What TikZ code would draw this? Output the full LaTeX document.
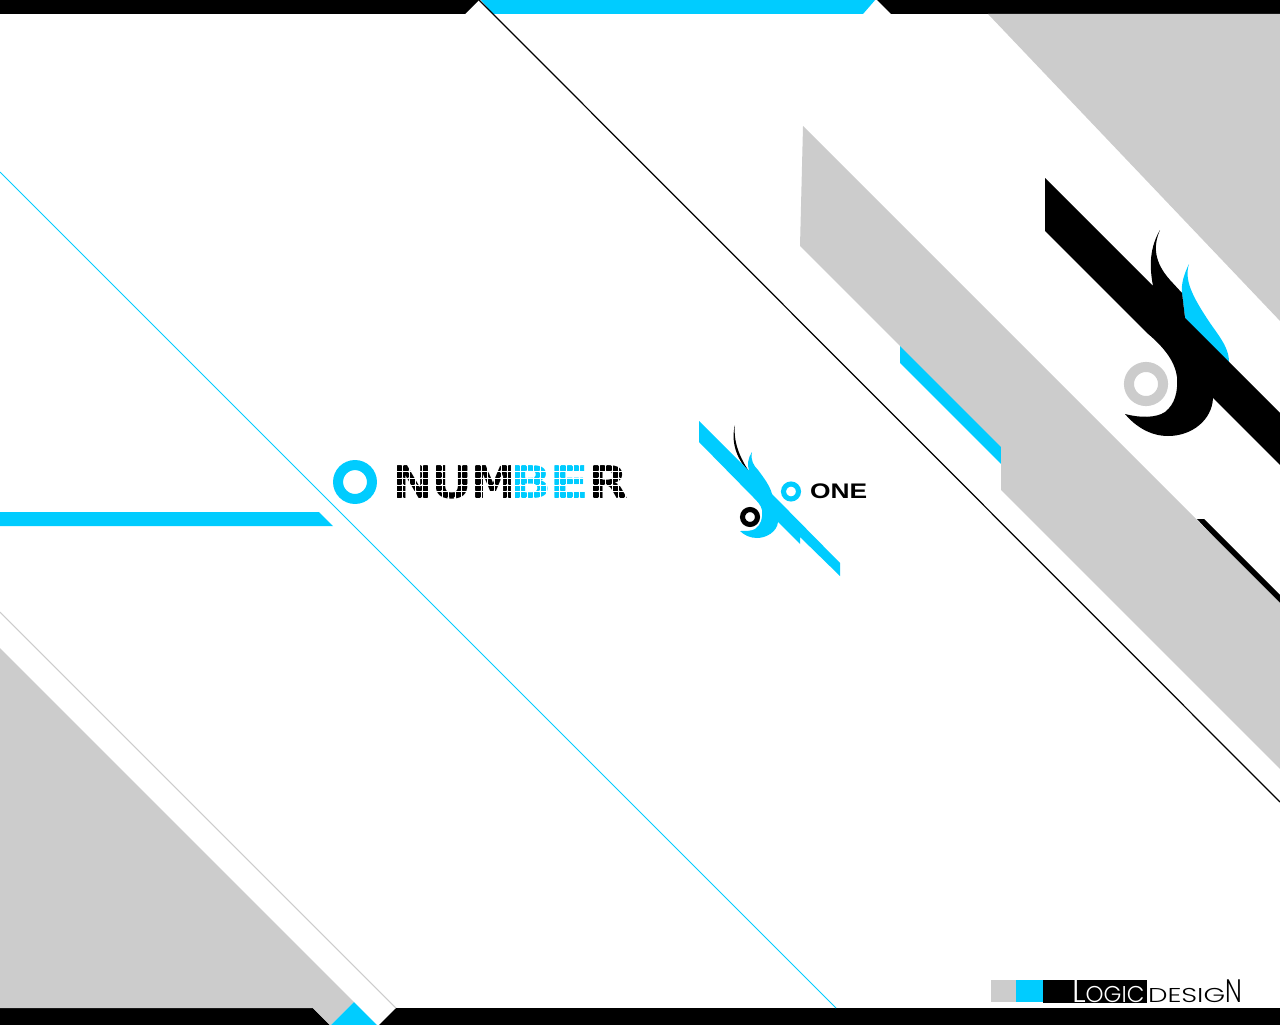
\documentclass[tikz,border=0pt]{standalone}
\usepackage{fontspec}
\setmainfont{Liberation Sans}
\newfontfamily\thinfont{Poppins}[UprightFont=* Light]
\newfontfamily\dotfont{DejaVu Sans}[UprightFont=* Bold]
\definecolor{accent}{HTML}{00CCFF}
\definecolor{ash}{HTML}{CCCCCC}
\newcommand{\dl}[2]{\makebox[22.36pt][l]{\scalebox{#2}[1]{#1}}}
\tikzset{
  fillaccent/.style={fill=accent,draw=none},
  fillash/.style={fill=ash,draw=none},
  fillblack/.style={fill=black,draw=none},
  ringbig/.style={circle,line width=5.7pt,minimum size=19.3pt,inner sep=0,fill=white},
  ringsmall/.style={circle,line width=2.9pt,minimum size=8.5pt,inner sep=0,fill=white},
  plainword/.style={inner sep=0,outer sep=0,anchor=base west},
  dotword/.style={plainword,font=\dotfont\fontsize{25.7pt}{26pt}\selectfont},
  smallword/.style={plainword,font=\bfseries\fontsize{12pt}{12pt}\selectfont},
  dotmask/.style={white,line width=0.3pt},
}
\begin{document}
\begin{tikzpicture}[x=0.02cm,y=-0.02cm]
\useasboundingbox (0,0) rectangle (1280,1024);
\fill[white] (0,0) rectangle (1280,1024);
% top and bottom bars
\fill[fillblack] (-1,-1) -- (480,-1) -- (465,14) -- (-1,14) -- cycle;
\fill[fillaccent] (480,-1) -- (876,-1) -- (863,14) -- (493,14) -- cycle;
\fill[fillblack] (876,-1) -- (1281,-1) -- (1281,14) -- (891,14) -- cycle;
\fill[fillblack] (-1,1008) -- (313,1008) -- (330,1025) -- (-1,1025) -- cycle;
\fill[fillblack] (396,1008) -- (1281,1008) -- (1281,1025) -- (379,1025) -- cycle;
% bottom-left gray
\fill[fillash] (-1,647) -- (354,1002) -- (331,1025) -- (330,1025) -- (313,1008) -- (-1,1008) -- cycle;
\fill[fillaccent] (354,1002) -- (377,1025) -- (331,1025) -- cycle;
\draw[ash,line width=0.6pt] (0,612) -- (396,1008);
\draw[accent,line width=0.6pt] (0,172) -- (836,1008);
\fill[fillaccent] (-1,512) -- (319,512) -- (333,526) -- (-1,526) -- cycle;
\draw[black,line width=0.7pt] (479,0) -- (1280,802);
% top-right gray
\fill[fillash] (988,14) -- (1281,14) -- (1281,322) -- cycle;
% black stripe behind gray strip, cyan stripe
\fill[fillblack] (1197,519) -- (1204,519) -- (1281,596) -- (1281,610) -- cycle;
\fill[fillaccent] (900,340) -- (1001,441) -- (1001,464) -- (900,363) -- cycle;
\fill[fillash] (803,126) -- (1281,604) -- (1281,770) -- (1001,490) -- (1001,447) -- (800,246) -- cycle;
% large emblem
\fill[fillaccent] (1185,318) -- (1182,293) .. controls (1181,284) and (1184,274) .. (1189,264)
  .. controls (1184,280) and (1192,296) .. (1210,323)
  .. controls (1222,340) and (1230,350) .. (1229,365) -- cycle;
\fill[fillblack] (1045,178) -- (1153,286)
  .. controls (1149,265) and (1150,247) .. (1160,230)
  .. controls (1153,246) and (1154,262) .. (1170,280)
  -- (1182,293) -- (1185,318) -- (1281,414) -- (1281,466) -- (1213,398)
  .. controls (1212,420) and (1192,436) .. (1168,436)
  .. controls (1150,436) and (1135,426) .. (1125,414)
  .. controls (1140,418) and (1156,418) .. (1165,412)
  .. controls (1175,404) and (1178,392) .. (1177,377)
  .. controls (1175,362) and (1165,348) .. (1147,333)
  -- (1045,231) -- cycle;
\node[ringbig,draw=ash,minimum size=19.4pt] (ringc) at (1146,384) {};
% central word
\node[ringbig,draw=accent] (ringa) at (355,482) {};
\node[dotword] (wordc) at (392.5,498) {\dl{N}{1.1}\dl{U}{1.12}\dl{M}{0.98}\textcolor{accent}{\dl{B}{1.2}\dl{E}{1.3}}\dl{R}{1.15}};
\foreach \k in {1,...,4} \draw[dotmask] (390,{465+6.6*\k}) -- (632,{465+6.6*\k});
\foreach \k in {0,...,36} \draw[dotmask] ({396+6.55*\k},460) -- ({396+6.55*\k},503);
\foreach \j in {0,...,5} \foreach \k in {0,...,36}
  \fill[white] ({396+6.55*\k},{465+6.6*\j}) circle (1.3);
% small emblem
\fill[fillblack] (735,425) .. controls (731,440) and (735,458) .. (750,473)
  .. controls (740,458) and (733,442) .. (735,425) -- cycle;
\fill[fillaccent] (699,421) -- (749,471) .. controls (747,464) and (748,458) .. (752,452)
  .. controls (750,460) and (754,466) .. (758,470)
  .. controls (764,478) and (770,486) .. (772,494)
  -- (840,563) -- (840,576) -- (800,537) -- (800,544) -- (778,522)
  .. controls (777,532) and (766,538) .. (757,538)
  .. controls (750,538) and (744,535) .. (740,531)
  .. controls (746,531) and (752,531) .. (755,529)
  .. controls (761,525) and (763,518) .. (762,510)
  .. controls (761,505) and (757,501) .. (753,497)
  -- (699,442) -- cycle;
\node[ringsmall,draw=black] (ringd) at (750,517) {};
\node[ringsmall,draw=accent] (ringb) at (791,491.5) {};
\node[smallword] (wordb) at (810,498) {\scalebox{1.25}[1]{ONE}};
% legend
\fill[fillash] (991,980) rectangle (1016,1002);
\fill[fillaccent] (1016,980) rectangle (1043,1002);
\fill[fillblack] (1043,980) rectangle (1147,1003);
\node[plainword,white] (logica) at (1072,1002.5) {\thinfont\fontsize{18.5pt}{18pt}\selectfont L\fontsize{13pt}{13pt}\selectfont OGIC};
\node[plainword,black] (logicb) at (1148,1002) {\thinfont\scalebox{1.38}[1]{\fontsize{11.4pt}{11pt}\selectfont DESIG}\scalebox{0.75}[1]{\fontsize{18.5pt}{18pt}\selectfont N}};
\end{tikzpicture}
\end{document}
